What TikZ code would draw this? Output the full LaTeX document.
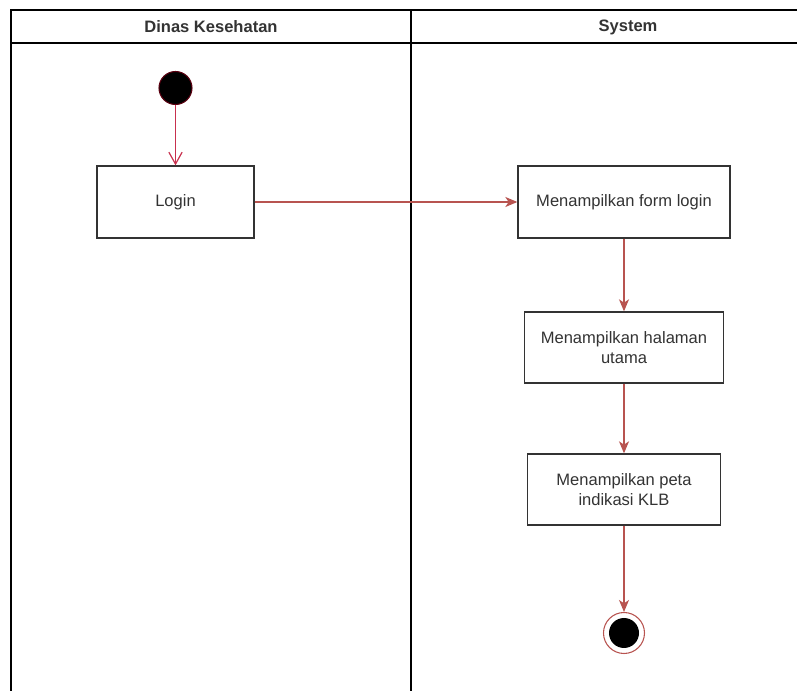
\documentclass[tikz,border=0pt]{standalone}
\usepackage{fontspec}
\setmainfont{Liberation Sans}
\usetikzlibrary{arrows.meta}
\definecolor{txt}{HTML}{333333}
\definecolor{flow}{HTML}{B85450}
\definecolor{startflow}{HTML}{C8304E}
\definecolor{startrim}{HTML}{5A0010}
\tikzset{
  lane/.style={line width=1.1pt, draw=black},
  actbox/.style={draw=txt, line width=1pt, fill=white, text=txt, align=center,
     font=\fontsize{12.4}{15}\selectfont, inner sep=2pt},
  hdr/.style={text=txt, font=\bfseries\fontsize{12.4}{15}\selectfont},
  flowarrow/.style={draw=flow, line width=0.9pt, -{Stealth[length=9pt,width=7.5pt,inset=2.5pt]}},
  openarrow/.style={draw=startflow, line width=0.9pt, -{Straight Barb[length=9pt,width=10pt]}},
}
\begin{document}
\begin{tikzpicture}[x=0.75pt,y=-0.75pt]
\useasboundingbox[fill=white] (0,0) rectangle (797,691);
% swimlanes
\draw[lane] (11,691) -- (11,10) -- (797,10);
\draw[lane] (11,43) -- (797,43);
\draw[lane] (411,10) -- (411,691);
\node[hdr] (h1) at (211,27) {Dinas Kesehatan};
\node[hdr] (h2) at (628,27) {System};
% nodes
\node[circle, fill=black, draw=startrim, line width=0.8pt, minimum size=33*0.75pt, inner sep=0pt] (start) at (175.5,88) {};
\node[actbox, minimum width=157*0.75pt, minimum height=72*0.75pt] (login) at (175.5,202) {Login};
\node[actbox, minimum width=212*0.75pt, minimum height=72*0.75pt] (form) at (624,202) {Menampilkan form login};
\node[actbox, minimum width=199*0.75pt, minimum height=71*0.75pt] (home) at (624,347.5) {Menampilkan halaman\\utama};
\node[actbox, minimum width=193*0.75pt, minimum height=71*0.75pt] (map) at (624,489.5) {Menampilkan peta\\indikasi KLB};
\node[circle, draw=flow, line width=0.8pt, fill=white, minimum size=41*0.75pt, inner sep=0pt] (end) at (624,633) {};
\node[circle, fill=black, minimum size=30*0.75pt, inner sep=0pt] (endin) at (624,633) {};
% connectors
\draw[openarrow] (start) -- (login);
\draw[flowarrow] (login) -- (form);
\draw[flowarrow] (form) -- (home);
\draw[flowarrow] (home) -- (map);
\draw[flowarrow] (map) -- (end);
\end{tikzpicture}
\end{document}
